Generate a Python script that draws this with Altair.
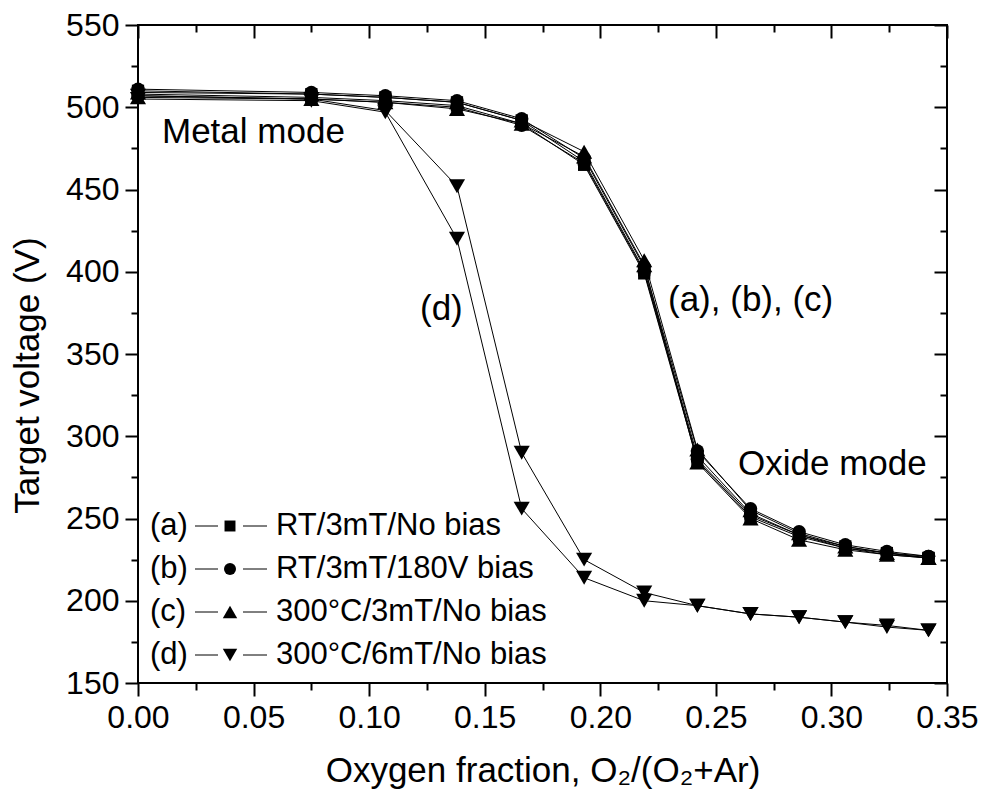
import altair as alt
import pandas as pd

# ---- data ----
x_vals = [0.0, 0.075, 0.107, 0.138, 0.166, 0.193, 0.219, 0.242, 0.265, 0.286, 0.306, 0.324, 0.342]

a_up   = [508, 506, 504, 501, 490, 465, 399, 285, 251, 239, 232, 228, 226]
a_down = [510, 508, 506, 503, 492, 467, 401, 288, 253, 240, 233, 229, 226]
b_up   = [507, 505, 503, 500, 489, 466, 400, 286, 252, 240, 232, 229, 227]
b_down = [511, 509, 507, 504, 493, 469, 403, 291, 256, 242, 234, 230, 227]
c_up   = [506, 505, 503, 499, 490, 470, 404, 284, 250, 237, 231, 228, 226]
c_down = [509, 508, 506, 503, 492, 473, 407, 292, 255, 241, 233, 229, 226]
d_up   = [505, 504, 497, 420, 256, 214, 200, 197, 192, 190, 187, 184, 182]
d_down = [507, 505, 498, 452, 290, 225, 205, 197, 192, 190, 187, 185, 182]

series_keys = ["a", "b", "c", "d"]
legend_tags = ["(a)", "(b)", "(c)", "(d)"]
legend_labels = ["RT/3mT/No bias", "RT/3mT/180V bias", "300°C/3mT/No bias", "300°C/6mT/No bias"]

x_major = [0.0, 0.05, 0.10, 0.15, 0.20, 0.25, 0.30, 0.35]
x_minor = [0.025, 0.075, 0.125, 0.175, 0.225, 0.275, 0.325]
y_major = [150, 200, 250, 300, 350, 400, 450, 500, 550]
y_minor = [175, 225, 275, 325, 375, 425, 475, 525]

# ---- build tables ----
sweeps = {
    ("a", "up"): a_up, ("a", "down"): a_down,
    ("b", "up"): b_up, ("b", "down"): b_down,
    ("c", "up"): c_up, ("c", "down"): c_down,
    ("d", "up"): d_up, ("d", "down"): d_down,
}
rows = []
for (s, sw), vals in sweeps.items():
    for i, (xv, yv) in enumerate(zip(x_vals, vals)):
        rows.append({"x": xv, "y": yv, "series": s, "key": s + sw, "order": i})
df = pd.DataFrame(rows)

leg = pd.DataFrame({"series": series_keys, "tag": legend_tags, "label": legend_labels,
                    "i": list(range(len(series_keys)))})

FONT = "Liberation Sans"
shape_of = {"a": "square", "b": "circle", "c": "triangle-up", "d": "triangle-down"}
size_of = {"a": 150, "b": 180, "c": 260, "d": 260}

xs = alt.Scale(domain=[0, 0.35], nice=False, zero=False)
ys = alt.Scale(domain=[150, 550], nice=False, zero=False)

def ax(orient, values, size, labels=False, title=None, offset=0, fmt=None,
       title_pad=None, title_y=None):
    kw = dict(orient=orient, values=values, tickSize=size, tickWidth=2, tickColor="black",
              domain=False, grid=False, labels=labels, offset=offset)
    if labels:
        kw.update(labelFont=FONT, labelFontSize=32, labelColor="black", labelPadding=6,
                  labelFlush=False, labelOverlap=False)
    if fmt:
        kw["format"] = fmt
    if title is not None:
        kw.update(title=title, titleFont=FONT, titleFontSize=35, titleFontWeight="normal",
                  titleColor="black")
        if title_pad is not None:
            kw["titlePadding"] = title_pad
        if title_y is not None:
            kw["titleY"] = title_y
    else:
        kw["title"] = ""
    return alt.Axis(**kw)

lines = alt.Chart(df).mark_line(color="black", strokeWidth=1).encode(
    x=alt.X("x:Q", scale=xs, axis=ax("bottom", x_major, 13, labels=True,
                                     title="Oxygen fraction, O₂/(O₂+Ar)", fmt=".2f",
                                     title_pad=20)),
    y=alt.Y("y:Q", scale=ys, axis=ax("left", y_major, 13, labels=True,
                                     title="Target voltage (V)", fmt="d",
                                     title_pad=20, title_y=350)),
    detail="key:N",
    order="order:Q",
)

def carrier(xaxis, yaxis):
    return alt.Chart(df).mark_point(opacity=0).encode(
        x=alt.X("x:Q", scale=xs, axis=xaxis), y=alt.Y("y:Q", scale=ys, axis=yaxis))

bottom_minor = carrier(ax("bottom", x_minor, 7), ax("left", y_minor, 7))
top_major = carrier(ax("top", x_major, 13, offset=-13), ax("right", y_major, 13, offset=-13))
top_minor = carrier(ax("top", x_minor, 7, offset=-7), ax("right", y_minor, 7, offset=-7))

point_layers = []
for s in series_keys:
    point_layers.append(
        alt.Chart(df).transform_filter(alt.datum.series == s).mark_point(
            filled=True, color="black", opacity=1, shape=shape_of[s], size=size_of[s]
        ).encode(x=alt.X("x:Q", scale=xs, axis=None), y=alt.Y("y:Q", scale=ys, axis=None))
    )

# ---- custom legend (pixel layout) ----
legbase = alt.Chart(leg).transform_calculate(py="501 + 43 * datum.i")
leg_tag = legbase.mark_text(font=FONT, fontSize=31, align="left", baseline="middle", color="black").encode(
    x=alt.value(12), y=alt.Y("py:Q", scale=None, axis=None), text="tag:N")
leg_seg1 = legbase.mark_rule(color="black", strokeWidth=1).encode(
    x=alt.value(57), x2=alt.value(80), y=alt.Y("py:Q", scale=None, axis=None))
leg_seg2 = legbase.mark_rule(color="black", strokeWidth=1).encode(
    x=alt.value(105), x2=alt.value(129), y=alt.Y("py:Q", scale=None, axis=None))
leg_lab = legbase.mark_text(font=FONT, fontSize=31, align="left", baseline="middle", color="black").encode(
    x=alt.value(138), y=alt.Y("py:Q", scale=None, axis=None), text="label:N")
leg_pts = []
for s in series_keys:
    leg_pts.append(
        legbase.transform_filter(alt.datum.series == s).mark_point(
            filled=True, color="black", opacity=1, shape=shape_of[s], size=size_of[s] * 0.8
        ).encode(x=alt.value(92), y=alt.Y("py:Q", scale=None, axis=None))
    )

def note(txt, px, py):
    return alt.Chart(pd.DataFrame({"t": [txt]})).mark_text(
        font=FONT, fontSize=35, align="left", baseline="alphabetic", color="black"
    ).encode(x=alt.value(px), y=alt.value(py), text="t:N")

notes = [note("Metal mode", 24, 118), note("(d)", 282, 295),
         note("(a), (b), (c)", 530, 286), note("Oxide mode", 600, 450)]

chart = alt.layer(lines, bottom_minor, top_major, top_minor, *point_layers,
                  leg_seg1, leg_seg2, *leg_pts, leg_tag, leg_lab, *notes
).resolve_axis(x="independent", y="independent").properties(
    width=809, height=658,
    autosize=alt.AutoSizeParams(type="none"),
    padding={"left": 138, "top": 25, "right": 39, "bottom": 122},
    background="white",
).configure_view(stroke="black", strokeWidth=2)

chart.save("out.html", embed_options={"renderer": "svg", "actions": False})
